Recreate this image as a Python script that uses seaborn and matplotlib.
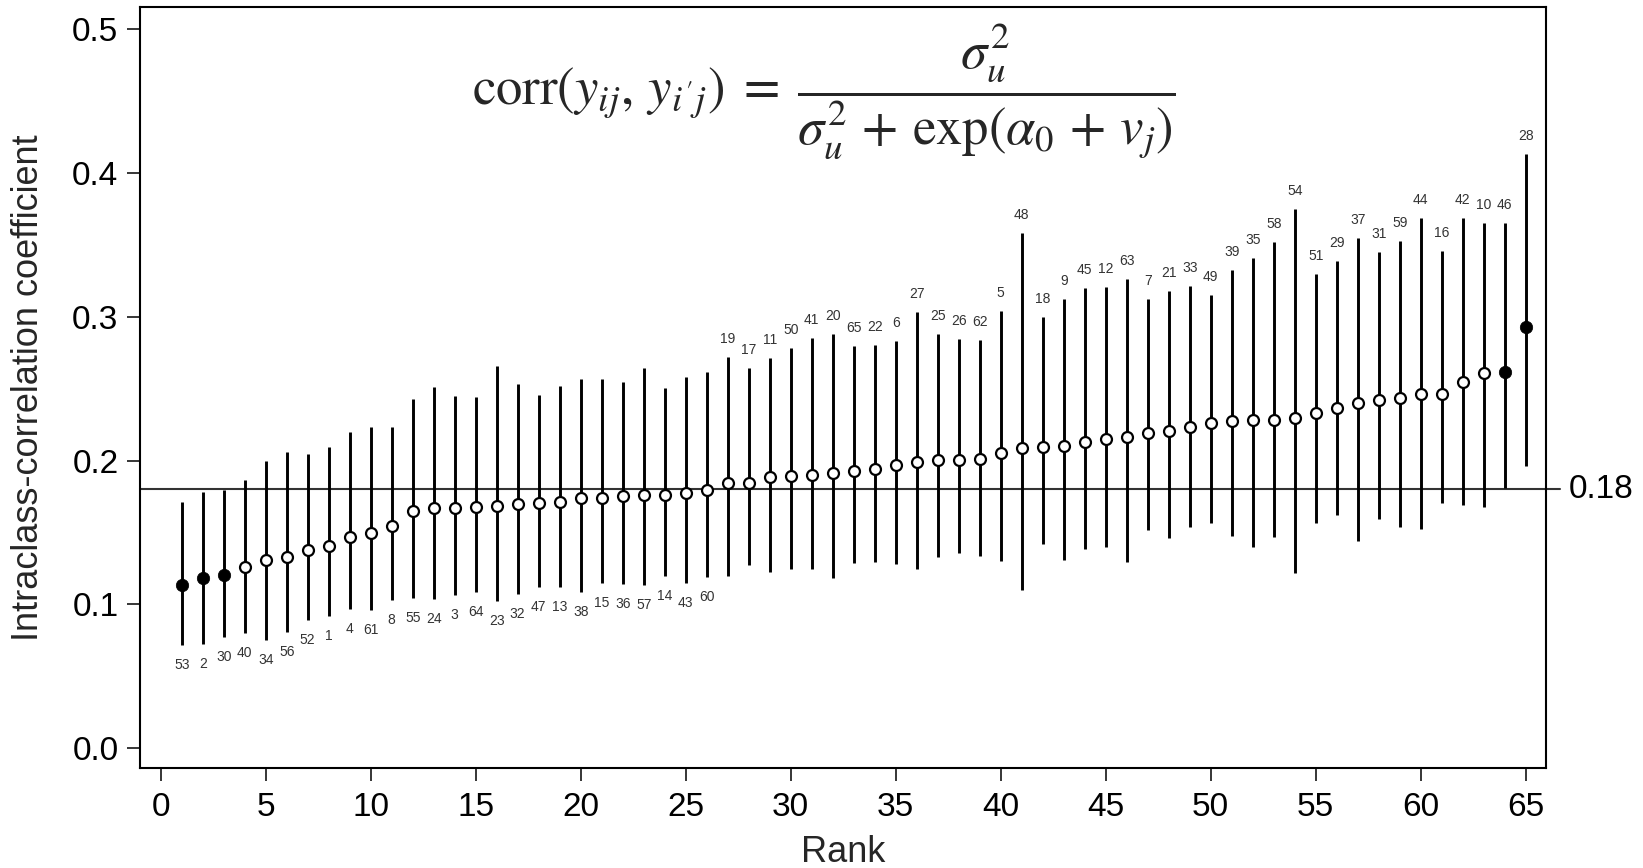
import numpy as np
import pandas as pd
import matplotlib
matplotlib.use("Agg")
import matplotlib.pyplot as plt
import seaborn as sns

# Cluster ranking of the intraclass-correlation coefficient with 95% intervals
rank = list(range(1, 66))
cluster_id = [53, 2, 30, 40, 34, 56, 52, 1, 4, 61, 8, 55, 24, 3, 64, 23, 32, 47, 13, 38,
              15, 36, 57, 14, 43, 60, 19, 17, 11, 50, 41, 20, 65, 22, 6, 27, 25, 26, 62, 5,
              48, 18, 9, 45, 12, 63, 7, 21, 33, 49, 39, 35, 58, 54, 51, 29, 37, 31, 59, 44,
              16, 42, 10, 46, 28]
icc = [0.1135, 0.1182, 0.1205, 0.1262, 0.1309, 0.1332, 0.1378, 0.1406, 0.1471, 0.1494,
       0.1545, 0.1652, 0.1668, 0.1668, 0.1675, 0.1684, 0.1700, 0.1707, 0.1714, 0.1738,
       0.1738, 0.1754, 0.1761, 0.1761, 0.1772, 0.1795, 0.1846, 0.1846, 0.1888, 0.1893,
       0.1900, 0.1912, 0.1930, 0.1942, 0.1967, 0.1990, 0.2004, 0.2006, 0.2013, 0.2051,
       0.2085, 0.2097, 0.2104, 0.2131, 0.2150, 0.2166, 0.2194, 0.2208, 0.2231, 0.2259,
       0.2273, 0.2280, 0.2282, 0.2294, 0.2333, 0.2363, 0.2398, 0.2421, 0.2437, 0.2461,
       0.2461, 0.2548, 0.2607, 0.2618, 0.2926]
ci_low = [0.0718, 0.0725, 0.0772, 0.0804, 0.0753, 0.0811, 0.0892, 0.0920, 0.0966, 0.0961,
          0.1031, 0.1047, 0.1038, 0.1066, 0.1084, 0.1024, 0.1070, 0.1119, 0.1123, 0.1089,
          0.1151, 0.1142, 0.1135, 0.1198, 0.1147, 0.1189, 0.1198, 0.1274, 0.1223, 0.1244,
          0.1244, 0.1182, 0.1286, 0.1297, 0.1281, 0.1244, 0.1332, 0.1358, 0.1339, 0.1304,
          0.1100, 0.1418, 0.1309, 0.1383, 0.1397, 0.1297, 0.1517, 0.1464, 0.1540, 0.1568,
          0.1476, 0.1401, 0.1471, 0.1216, 0.1564, 0.1622, 0.1443, 0.1597, 0.1540, 0.1522,
          0.1703, 0.1691, 0.1675, 0.1810, 0.1962]
ci_high = [0.1714, 0.1780, 0.1795, 0.1865, 0.2000, 0.2062, 0.2044, 0.2097, 0.2199, 0.2236,
           0.2231, 0.2428, 0.2514, 0.2451, 0.2444, 0.2657, 0.2530, 0.2454, 0.2518, 0.2565,
           0.2565, 0.2548, 0.2641, 0.2502, 0.2579, 0.2618, 0.2722, 0.2646, 0.2715, 0.2780,
           0.2850, 0.2878, 0.2797, 0.2801, 0.2831, 0.3035, 0.2880, 0.2843, 0.2838, 0.3042,
           0.3580, 0.2996, 0.3121, 0.3198, 0.3209, 0.3262, 0.3121, 0.3181, 0.3214, 0.3151,
           0.3325, 0.3410, 0.3517, 0.3747, 0.3300, 0.3389, 0.3549, 0.3452, 0.3529, 0.3688,
           0.3459, 0.3684, 0.3649, 0.3649, 0.4129]
overall_icc = 0.18

df = pd.DataFrame({"rank": rank, "cluster": cluster_id, "icc": icc,
                   "low": ci_low, "high": ci_high})
# Clusters whose interval excludes the overall value are drawn as solid dots
df["differs"] = (df["high"] < overall_icc) | (df["low"] > overall_icc)

sns.set_style("ticks")
plt.rcParams["font.family"] = ["Liberation Sans", "DejaVu Sans"]
plt.rcParams["mathtext.fontset"] = "stix"

fig = plt.figure(figsize=(16.43, 8.68), dpi=100)
ax = fig.add_axes([0.08521, 0.11555, 0.85605, 0.87673])

# Interval lines
ax.vlines(df["rank"], df["low"], df["high"], color="black", linewidth=2.1, zorder=2)

# Overall reference line extending past the right frame
ax.axhline(overall_icc, xmin=0, xmax=1.0096, color="#333333", linewidth=1.5,
           clip_on=False, zorder=1)
ax.text(1.016, overall_icc, f"{overall_icc:.2f}", transform=ax.get_yaxis_transform(),
        ha="left", va="center", fontsize=24, color="black")

# Point estimates
open_pts = df[~df["differs"]]
solid_pts = df[df["differs"]]
sns.scatterplot(data=open_pts, x="rank", y="icc", ax=ax, s=62, color="white",
                edgecolor="black", linewidth=1.6, zorder=3, legend=False)
sns.scatterplot(data=solid_pts, x="rank", y="icc", ax=ax, s=80, color="black",
                edgecolor="black", linewidth=0.5, zorder=3, legend=False)

# Cluster ids: below the interval under the overall value, above otherwise
for r, cid, lo, hi, est in zip(df["rank"], df["cluster"], df["low"], df["high"], df["icc"]):
    if est < overall_icc:
        ax.annotate(str(cid), (r, lo), xytext=(0, -20), textcoords="offset pixels",
                    ha="center", va="center", fontsize=10, color="#333333")
    else:
        ax.annotate(str(cid), (r, hi), xytext=(0, 18), textcoords="offset pixels",
                    ha="center", va="center", fontsize=10, color="#333333")

# Formula
ax.text(0.4863, 0.8895,
        r"$\mathrm{corr}\left(y_{ij},\,y_{i^{\prime}j}\right)\;=\;"
        r"\dfrac{\sigma_u^2}{\sigma_u^2\,+\,\exp(\alpha_0\,+\,v_j)}$",
        transform=ax.transAxes, ha="center", va="center", fontsize=38)

ax.set_xlim(-0.986, 65.99)
ax.set_ylim(-0.0135, 0.5155)
ax.set_xticks(np.arange(0, 66, 5))
ax.set_yticks(np.arange(0, 0.51, 0.1))
ax.set_yticklabels([f"{v:.1f}" for v in np.arange(0, 0.51, 0.1)])
ax.tick_params(axis="both", direction="out", length=9.5, width=1.1, labelsize=24,
               colors="black")
ax.tick_params(axis="y", pad=6)
ax.tick_params(axis="x", pad=8)
for sp in ax.spines.values():
    sp.set_visible(True)
    sp.set_linewidth(1.5)
    sp.set_color("black")

ax.set_xlabel("Rank", fontsize=26, va="center")
ax.set_ylabel("Intraclass-correlation coefficient", fontsize=26, va="center")
ax.xaxis.set_label_coords(0.5, -0.112)
ax.yaxis.set_label_coords(-0.0795, 0.5)

fig.savefig("out.png", dpi=100, facecolor="white")
